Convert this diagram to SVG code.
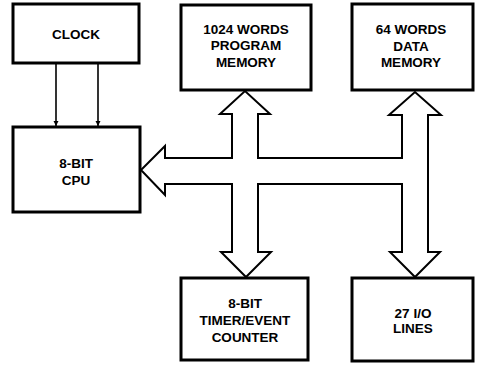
<svg xmlns="http://www.w3.org/2000/svg" width="477" height="365" viewBox="0 0 477 365">
<defs>
<style>
.box{fill:#fff;stroke:#000;stroke-width:3}
.lbl{font-family:"Liberation Sans",Arial,sans-serif;font-weight:bold;font-size:13.5px;text-anchor:middle;fill:#000}
.bus{fill:#fff;stroke:#000;stroke-width:2;stroke-linejoin:miter}
.wire{stroke:#000;stroke-width:1.6;fill:none}
</style>
<marker id="ah" viewBox="0 0 10 10" refX="10" refY="5" markerWidth="5" markerHeight="7" markerUnits="userSpaceOnUse" orient="auto">
<path d="M0,0 L10,5 L0,10 z" fill="#000"/>
</marker>
</defs>
<rect width="477" height="365" fill="#fff"/>
<g id="connectors">
<line class="wire" x1="56" y1="64" x2="56" y2="126" marker-end="url(#ah)"/>
<line class="wire" x1="98" y1="64" x2="98" y2="126" marker-end="url(#ah)"/>
<path class="bus" d="M232,114 L232,158 L165,158 L165,146 L141,170 L165,195 L165,184 L232,184 L232,252 L221,252 L246,277 L271,252 L258,252 L258,184 L402,184 L402,252 L390,252 L415,277 L440,252 L428,252 L428,115 L441,115 L415,92 L389,115 L402,115 L402,158 L258,158 L258,114 L270,114 L245,91 L220,114 Z"/>
</g>
<g id="clock">
<rect class="box" x="13" y="4" width="126" height="59"/>
<text class="lbl" x="76" y="39">CLOCK</text>
</g>
<g id="cpu">
<rect class="box" x="13" y="127" width="127" height="85"/>
<text class="lbl" x="76" y="168">8-BIT</text>
<text class="lbl" x="76" y="185">CPU</text>
</g>
<g id="program-memory">
<rect class="box" x="181" y="5" width="130" height="85"/>
<text class="lbl" x="246" y="34">1024 WORDS</text>
<text class="lbl" x="246" y="50">PROGRAM</text>
<text class="lbl" x="246" y="67">MEMORY</text>
</g>
<g id="data-memory">
<rect class="box" x="352" y="4" width="121" height="86"/>
<text class="lbl" x="411" y="34">64 WORDS</text>
<text class="lbl" x="411" y="51">DATA</text>
<text class="lbl" x="411" y="67">MEMORY</text>
</g>
<g id="timer">
<rect class="box" x="181" y="278" width="127" height="82"/>
<text class="lbl" x="245" y="308">8-BIT</text>
<text class="lbl" x="245" y="325">TIMER/EVENT</text>
<text class="lbl" x="245" y="342">COUNTER</text>
</g>
<g id="io">
<rect class="box" x="352" y="278" width="121" height="83"/>
<text class="lbl" x="413" y="318">27 I/O</text>
<text class="lbl" x="413" y="333">LINES</text>
</g>
</svg>
